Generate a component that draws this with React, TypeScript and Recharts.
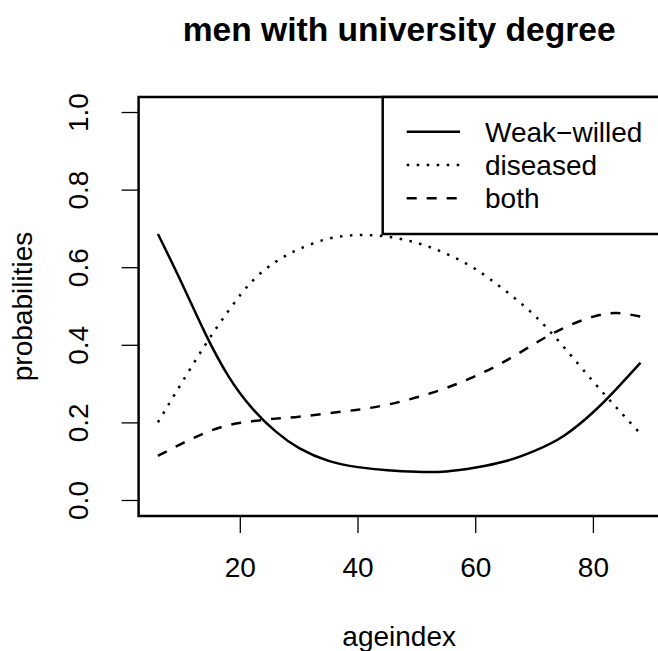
import React from "react";
import { LineChart, Line, XAxis, YAxis, ReferenceArea } from "recharts";

const ageindex = [6, 10, 14, 18, 22, 26, 30, 35, 40, 45, 50, 55, 60, 65, 70, 75, 80, 84, 88];
const weakWilled = [0.687, 0.562, 0.432, 0.32, 0.238, 0.178, 0.135, 0.102, 0.086, 0.078, 0.074, 0.075, 0.085, 0.101, 0.128, 0.167, 0.228, 0.289, 0.355];
const diseased = [0.2015, 0.302, 0.4, 0.489, 0.565, 0.615, 0.648, 0.675, 0.684, 0.68, 0.664, 0.636, 0.596, 0.541, 0.477, 0.395, 0.306, 0.238, 0.172];
const both = [0.115, 0.146, 0.174, 0.194, 0.204, 0.211, 0.216, 0.225, 0.234, 0.247, 0.266, 0.29, 0.321, 0.359, 0.404, 0.445, 0.474, 0.483, 0.474];

const xTicks = [20, 40, 60, 80];
const yTicks = [0, 0.2, 0.4, 0.6, 0.8, 1.0];

const title = "men with university degree";
const xLabel = "ageindex";
const yLabel = "probabilities";

const series = [
  { key: "weak", name: "Weak\u2212willed", values: weakWilled, dash: undefined as string | undefined },
  { key: "diseased", name: "diseased", values: diseased, dash: "2.5 7.5" },
  { key: "both", name: "both", values: both, dash: "10 10" },
];

const data = ageindex.map((a, i) => {
  const row: Record<string, number> = { ageindex: a };
  series.forEach((s) => {
    row[s.key] = s.values[i];
  });
  return row;
});

const FONT = "'Liberation Sans', Arial, Helvetica, sans-serif";

const XTick = (props: any) => (
  <text x={props.x} y={577} textAnchor="middle" fontSize={28} fontFamily={FONT} fill="#000">
    {props.payload.value}
  </text>
);

const YTick = (props: any) => (
  <text
    x={88}
    y={props.y}
    transform={`rotate(-90, 88, ${props.y})`}
    textAnchor="middle"
    fontSize={28}
    fontFamily={FONT}
    fill="#000"
  >
    {Number(props.payload.value).toFixed(1)}
  </text>
);

export default function App() {
  return (
    <div style={{ position: "absolute", left: 0, top: 0, width: 658, height: 651, overflow: "hidden", background: "#fff" }}>
      <LineChart
        width={700}
        height={651}
        data={data}
        margin={{ top: 97, right: 40.2, bottom: 75, left: 58.6 }}
      >
        <XAxis
          dataKey="ageindex"
          type="number"
          domain={[2.72, 91.28]}
          ticks={xTicks}
          allowDataOverflow
          axisLine={false}
          tickLine={{ stroke: "#000", strokeWidth: 1.3 }}
          tickSize={17}
          height={60}
          tick={<XTick />}
          interval={0}
        />
        <YAxis
          type="number"
          domain={[-0.04, 1.04]}
          ticks={yTicks}
          allowDataOverflow
          axisLine={false}
          tickLine={{ stroke: "#000", strokeWidth: 1.3 }}
          tickSize={17}
          width={80}
          tick={<YTick />}
          interval={0}
        />
        {series.map((s) => (
          <Line
            key={s.key}
            dataKey={s.key}
            name={s.name}
            type="natural"
            stroke="#000"
            strokeWidth={2.5}
            strokeDasharray={s.dash}
            dot={false}
            activeDot={false}
            isAnimationActive={false}
          />
        ))}
        <ReferenceArea
          x1={2.72}
          x2={91.28}
          y1={-0.04}
          y2={1.04}
          fill="none"
          fillOpacity={0}
          stroke="#000"
          strokeWidth={2.5}
          ifOverflow="visible"
        />
      </LineChart>
      <svg
        width={658}
        height={651}
        style={{ position: "absolute", left: 0, top: 0, pointerEvents: "none" }}
      >
        <text x={399.2} y={41} textAnchor="middle" fontSize={33.6} fontWeight="bold" fontFamily={FONT} fill="#000">
          {title}
        </text>
        <text x={399.2} y={646} textAnchor="middle" fontSize={28} fontFamily={FONT} fill="#000">
          {xLabel}
        </text>
        <text
          x={32}
          y={306.5}
          transform="rotate(-90, 32, 306.5)"
          textAnchor="middle"
          fontSize={28}
          fontFamily={FONT}
          fill="#000"
        >
          {yLabel}
        </text>
        <rect x={382.7} y={97} width={277} height={137} fill="#fff" stroke="#000" strokeWidth={2.5} />
        {series.map((s, i) => {
          const y = 131.7 + i * 33.3;
          return (
            <g key={s.key}>
              <line x1={406.7} x2={460} y1={y} y2={y} stroke="#000" strokeWidth={2.5} strokeDasharray={s.dash} />
              <text x={485} y={y} dy="0.36em" fontSize={28} fontFamily={FONT} fill="#000">
                {s.name}
              </text>
            </g>
          );
        })}
      </svg>
    </div>
  );
}
